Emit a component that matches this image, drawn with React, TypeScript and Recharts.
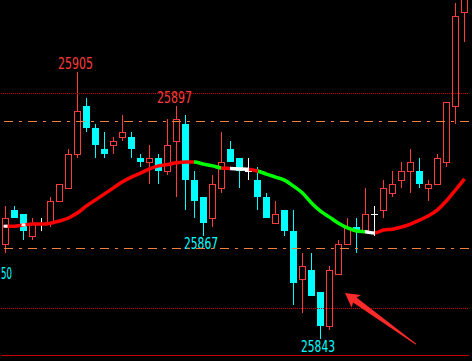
import { ComposedChart, Bar, Line, XAxis, YAxis, ReferenceLine } from "recharts";

// one candle per bar, left to right
const opens = [25865, 25873, 25872, 25867, 25870, 25870, 25875, 25878, 25886, 25897, 25892, 25887, 25888, 25890, 25890, 25885, 25884, 25885, 25882, 25889, 25893, 25880, 25876, 25871, 25878, 25887, 25885, 25882, 25880, 25876, 25870, 25873, 25868, 25857, 25859, 25854, 25846, 25858, 25865, 25869, 25868, 25872, 25873, 25877, 25880, 25882, 25882, 25878, 25879, 25884, 25897, 25919];
const highs = [25874, 25874, 25872, 25871, 25871, 25876, 25879, 25887, 25905, 25899, 25893, 25891, 25890, 25895, 25891, 25886, 25888, 25886, 25894, 25897, 25895, 25882, 25876, 25881, 25891, 25889, 25885, 25885, 25883, 25877, 25875, 25873, 25873, 25863, 25863, 25854, 25860, 25866, 25871, 25871, 25878, 25874, 25880, 25882, 25884, 25887, 25885, 25880, 25886, 25898, 25921, 25926];
const lows = [25863, 25871, 25866, 25866, 25868, 25869, 25875, 25878, 25885, 25891, 25885, 25885, 25886, 25889, 25885, 25883, 25879, 25879, 25881, 25876, 25873, 25871, 25867, 25869, 25877, 25884, 25878, 25880, 25873, 25871, 25870, 25867, 25851, 25849, 25853, 25843, 25845, 25858, 25865, 25863, 25868, 25867, 25871, 25876, 25878, 25877, 25878, 25875, 25879, 25883, 25893, 25912];
const closes = [25871, 25871, 25868, 25870, 25870, 25875, 25879, 25886, 25896, 25892, 25888, 25886, 25889, 25891, 25887, 25884, 25885, 25882, 25888, 25894, 25880, 25875, 25870, 25879, 25884, 25884, 25882, 25882, 25876, 25871, 25872, 25868, 25856, 25860, 25853, 25846, 25859, 25865, 25869, 25868, 25872, 25872, 25878, 25879, 25882, 25884, 25879, 25879, 25885, 25898, 25918, 25924];

// moving average and its trend colour per segment (r up, g down, w flat)
const ma = [25869.2, 25869.2, 25869.5, 25869.7, 25869.7, 25869.9, 25870.4, 25871.1, 25872.3, 25873.9, 25875.3, 25876.7, 25878.1, 25879.5, 25880.6, 25881.5, 25882.5, 25883.2, 25883.5, 25883.9, 25884.1, 25884.1, 25883.6, 25883.2, 25882.7, 25882.6, 25882.5, 25882.4, 25882.0, 25881.3, 25880.6, 25879.9, 25878.5, 25876.9, 25874.6, 25872.7, 25871.3, 25869.9, 25868.8, 25868.1, 25867.9, 25867.6, 25868.3, 25868.5, 25869.0, 25869.7, 25870.6, 25871.6, 25873.0, 25875.1, 25877.6, 25880.2];
const maTone = "rrrrrrrrrrrrrrrrrrrrrgggrwwrggggggggggggwrrrrrrrrrr";
const maSpecks = [0, 2];

const highMarks = [8, 19];
const lowMarks = [22, 35];
const dottedLevels = [25899.9, 25850.2];
const pivotLevels = [25893.6, 25864.1];

const Y_MIN = 25839.3;
const Y_MAX = 25921.7;

const UP = "#ff3c3c";
const DOWN = "#00ffff";
const FLAT = "#ffffff";
const TONES: Record<string, string> = { r: "#ff0000", g: "#00ff00", w: "#ffffff" };
const FONT = "'DejaVu Sans', sans-serif";

const rows = opens.map((o, i) => ({ i, open: o, high: highs[i], low: lows[i], close: closes[i], ma: ma[i] }));

function Candle(props: any) {
  const { x, y, width, height, payload } = props;
  const { open, high, low, close, i } = payload;
  const top = Math.min(y, y + height);
  const bot = Math.max(y, y + height);
  const py = (p: number) => top + ((high - p) * (bot - top)) / (high - low || 1);
  const c = Math.floor(x + width / 2) + 0.5;
  const hy = Math.round(py(high));
  const ly = Math.round(py(low));
  const b0 = Math.round(py(Math.max(open, close)));
  const b1 = Math.round(py(Math.min(open, close)));

  let body;
  if (close > open) {
    body = (
      <g stroke={UP} shapeRendering="crispEdges">
        <line x1={c} x2={c} y1={hy} y2={b0} />
        <line x1={c} x2={c} y1={b1} y2={ly} />
        <rect x={c - 3} y={b0 + 0.5} width={6} height={Math.max(1, b1 - b0)} fill="none" />
      </g>
    );
  } else if (close < open) {
    body = (
      <g shapeRendering="crispEdges">
        <line x1={c} x2={c} y1={hy} y2={ly} stroke={DOWN} />
        <rect x={c - 3.5} y={b0} width={7} height={Math.max(1, b1 - b0)} fill={DOWN} />
      </g>
    );
  } else {
    body = (
      <g stroke={FLAT} shapeRendering="crispEdges">
        <line x1={c} x2={c} y1={hy} y2={ly} />
        <line x1={c - 3.5} x2={c + 3.5} y1={b0 + 0.5} y2={b0 + 0.5} />
      </g>
    );
  }

  return (
    <g>
      {body}
      {highMarks.includes(i) && (
        <text x={c - 19.5} y={hy - 3} textLength={35} lengthAdjust="spacingAndGlyphs" fill={UP} fontSize={15} fontFamily={FONT}>
          {high}
        </text>
      )}
      {lowMarks.includes(i) && (
        <text x={c - 19.5} y={ly + 13} textLength={34} lengthAdjust="spacingAndGlyphs" fill={DOWN} fontSize={15} fontFamily={FONT}>
          {low}
        </text>
      )}
    </g>
  );
}

function MaDot(p: any) {
  if (!maSpecks.includes(p.index)) return <g key={p.index} />;
  return <rect key={p.index} x={p.cx - 2} y={p.cy - 1.5} width={4} height={3} fill="#ffffff" />;
}

export default function App() {
  const segs = ma.length - 1;
  return (
    <div style={{ position: "absolute", left: 0, top: 0, width: 472, height: 361, background: "#000", overflow: "hidden" }}>
      <ComposedChart width={472} height={361} data={rows} margin={{ top: 0, right: 3, bottom: 6, left: 1 }} barCategoryGap={0}>
        <defs>
          <linearGradient id="maTone" x1="0" y1="0" x2="1" y2="0">
            {maTone.split("").flatMap((t, k) => [
              <stop key={k + "a"} offset={k / segs} stopColor={TONES[t]} />,
              <stop key={k + "b"} offset={(k + 1) / segs} stopColor={TONES[t]} />,
            ])}
          </linearGradient>
        </defs>
        <XAxis dataKey="i" hide />
        <YAxis hide domain={[Y_MIN, Y_MAX]} allowDataOverflow />
        {dottedLevels.map((v) => (
          <ReferenceLine key={v} y={v} stroke="#c80000" strokeDasharray="1 1" shapeRendering="crispEdges" />
        ))}
        {pivotLevels.map((v) => (
          <ReferenceLine key={v} y={v} stroke="#f08040" strokeDasharray="9 6 3 6" strokeDashoffset={21} shapeRendering="crispEdges" />
        ))}
        <ReferenceLine y={Y_MIN} stroke="#c00000" shapeRendering="crispEdges" />
        <Bar dataKey={(d: any) => [d.low, d.high]} shape={(p: any) => <Candle {...p} />} isAnimationActive={false} />
        <Line dataKey="ma" type="monotone" stroke="url(#maTone)" strokeWidth={3.5} dot={MaDot} activeDot={false} isAnimationActive={false} />
      </ComposedChart>
      <svg width={472} height={361} style={{ position: "absolute", left: 0, top: 0, pointerEvents: "none" }}>
        <text x={1} y={279} textLength={11} lengthAdjust="spacingAndGlyphs" fill={DOWN} fontSize={15} fontFamily={FONT}>50</text>
        <polygon points="345,293 361,295 356.5,297.6 416.5,344 415.5,344.6 353,302.4 351.7,307.7" fill="#ff2a2a" />
      </svg>
    </div>
  );
}
